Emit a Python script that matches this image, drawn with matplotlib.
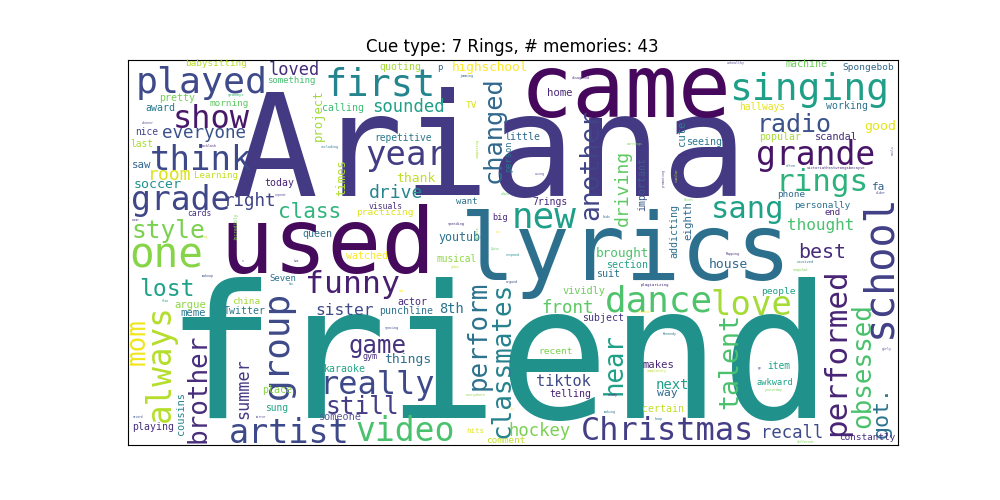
import matplotlib
matplotlib.use("Agg")
import matplotlib.pyplot as plt

# words in the cloud (cue "7 Rings", 43 memories)
words = [
    "Ariana", "used", "lyrics", "friend", "came", "school", "played", "loved",
    "babysitting", "something", "pretty", "grammys", "morning", "award", "project",
    "show", "everyone", "nice", "last", "dinner", "backlash", "think", "saw", "room",
    "Learning", "soccer", "today", "grade", "right", "class", "repeat", "cards",
    "incredibly", "wear", "raving", "style", "queen", "one", "lost", "makeup", "Seven",
    "fun", "flow", "china", "argue", "meme", "Twitter", "always", "mom", "brother",
    "cousins", "group", "summer", "place", "sung", "record", "mirror", "playing",
    "artist", "first", "quoting", "highschool", "p", "jamming", "sounded", "changed",
    "calling", "TV", "year", "repetitive", "little", "including", "comparing",
    "person", "times", "thank", "drive", "visuals", "practicing", "want", "big",
    "vibes", "spending", "youtube", "musical", "watched", "Quite", "middle", "ain",
    "respond", "jokes", "argued", "two", "s", "syncing", "sad", "funny", "sister",
    "actor", "punchline", "8th", "perform", "classmates", "game", "things", "gym",
    "karaoke", "really", "still", "someone", "video", "everywhere", "hits", "comment",
    "lip", "hockey", "brought", "section", "suit", "house", "vividly", "front",
    "dance", "love", "people", "plagiarizing", "subject", "showed", "Kennedy",
    "recent", "hear", "makes", "completely", "next", "tiktok", "telling", "way",
    "ready", "certain", "making", "hoop", "Christmas", "best", "Rapping", "received",
    "snapchat", "talent", "performed", "obsessed", "got.", "girly", "item", "go",
    "awkward", "yesterday", "recall", "different", "constantly", "unhealthy",
    "machine", "Spongebob", "singing", "hallways", "working", "radio", "good",
    "popular", "scandal", "seeing", "grande", "nails", "often",
    "victoriathestwrongsbecayse", "rings", "fa", "older", "sang", "phone",
    "personally", "end", "thought", "disagreed", "home", "another", "cute",
    "driving", "earrings", "important", "similar", "promoting", "watch", "using",
    "7rings", "Gives", "kids", "addicting", "eighth", "new",
]

# placement of each word (pixel frame of the picture)
# horizontal: (centre x, baseline y, em px, 0, colour)
# vertical:   (baseline x, centre y, em px, 90, colour)
layout = {
    "Ariana": (490, 196, 143, 0, "#443a83"),
    "used": (327.5, 273, 90, 0, "#450a5c"),
    "lyrics": (626, 280, 92, 0, "#2d708e"),
    "friend": (498, 418, 185, 0, "#21918c"),
    "came": (626, 117, 88, 0, "#46085c"),
    "school": (890, 266, 40, 90, "#424086"),
    "played": (201.5, 93, 36.5, 0, "#3e4a89"),
    "loved": (294, 75, 17, 0, "#472c7a"),
    "babysitting": (216, 66, 9.4, 0, "#b8de29"),
    "something": (291, 83, 9, 0, "#45bf70"),
    "pretty": (177, 101, 10, 0, "#75d054"),
    "grammys": (236, 96, 4, 0, "#3fbc73"),
    "morning": (229, 106, 9.4, 0, "#5ec962"),
    "award": (160, 111, 10, 0, "#2a788e"),
    "project": (322, 115, 12.3, 90, "#a0da39"),
    "show": (211.5, 128, 32, 0, "#48186a"),
    "everyone": (204, 138, 17.5, 0, "#3b528b"),
    "nice": (147, 135, 9.7, 0, "#404688"),
    "last": (142, 147, 9.7, 0, "#a8db34"),
    "dinner": (148, 124, 3.2, 0, "#5b4c96"),
    "backlash": (209, 147, 3.3, 0, "#472d7b"),
    "think": (201.5, 170, 34, 0, "#3e4989"),
    "saw": (142, 168, 10.8, 0, "#33638d"),
    "room": (170, 180, 18, 0, "#dde318"),
    "Learning": (216, 178, 9.2, 0, "#c2df23"),
    "soccer": (158, 188, 13.3, 0, "#21918c"),
    "today": (279, 186, 9.9, 0, "#482173"),
    "grade": (180.5, 210, 33, 0, "#3f4788"),
    "right": (250, 206, 17.5, 0, "#414487"),
    "class": (310, 218, 21, 0, "#2fb47c"),
    "repeat": (280, 196, 3.2, 0, "#5b4c96"),
    "cards": (199.5, 216, 8, 0, "#46337e"),
    "incredibly": (238, 226, 4.5, 90, "#7ad151"),
    "wear": (136, 221, 3, 0, "#472d7b"),
    "raving": (201, 238, 3.2, 0, "#c8e020"),
    "style": (168, 238, 24.5, 0, "#7ad151"),
    "queen": (317.5, 237, 10, 0, "#2d708e"),
    "one": (166, 268, 41, 0, "#86d549"),
    "lost": (167, 296, 23, 0, "#1fa187"),
    "makeup": (208, 277, 3.2, 0, "#3e4989"),
    "Seven": (283, 281, 9, 0, "#2c728e"),
    "fun": (291, 285, 2.8, 0, "#2c728e"),
    "flow": (165, 302, 3, 0, "#1fa187"),
    "china": (246.5, 304, 9.4, 0, "#a2da37"),
    "argue": (190, 308, 10.5, 0, "#8ed645"),
    "meme": (193, 316, 10.6, 0, "#2a788e"),
    "Twitter": (245, 314, 9.9, 0, "#2a768e"),
    "always": (170, 363, 32.6, 90, "#b5de2b"),
    "mom": (145, 342, 26, 90, "#f1e51d"),
    "brother": (205, 388, 26, 90, "#472d7b"),
    "cousins": (184, 414, 10.3, 90, "#26828e"),
    "group": (288, 345, 36, 90, "#3e4a89"),
    "summer": (248, 389, 16.8, 90, "#443983"),
    "place": (277, 393, 10, 0, "#86d549"),
    "sung": (277, 411, 9.7, 0, "#20a386"),
    "record": (138, 418, 3, 0, "#3b528b"),
    "mirror": (261, 418, 3, 0, "#5b4c96"),
    "playing": (153, 430, 9.9, 0, "#46307e"),
    "artist": (289, 443, 33.5, 0, "#3e4989"),
    "first": (380, 95, 37, 0, "#25858e"),
    "quoting": (400, 70, 9.9, 0, "#a5db36"),
    "highschool": (489.5, 71, 12.8, 0, "#fde725"),
    "p": (440, 70, 9, 0, "#33638d"),
    "jamming": (467, 77, 3.2, 0, "#31688e"),
    "sounded": (408, 112, 17.2, 0, "#1f9f88"),
    "changed": (501, 130, 25.4, 90, "#31688e"),
    "calling": (343, 111, 9.9, 0, "#3fbc73"),
    "TV": (472, 108, 9.5, 0, "#d8e219"),
    "year": (406.5, 165, 34, 0, "#433d84"),
    "repetitive": (403.5, 141, 9.7, 0, "#2a788e"),
    "little": (522, 140, 10, 0, "#306a8e"),
    "including": (330, 148, 3.2, 0, "#2a788e"),
    "comparing": (479, 148, 3.5, 90, "#a0da39"),
    "person": (511, 156, 8.7, 90, "#2c728e"),
    "times": (345, 178, 12.2, 90, "#b2dd2d"),
    "thank": (416, 182, 13, 0, "#c0df25"),
    "drive": (396, 198, 18, 0, "#25858e"),
    "visuals": (386, 209, 8, 0, "#472e7c"),
    "practicing": (385, 215, 9.5, 0, "#e2e418"),
    "want": (467, 204, 9, 0, "#2c728e"),
    "big": (500, 220, 8.7, 0, "#482878"),
    "vibes": (505, 195, 3, 0, "#5ec962"),
    "spending": (456, 225, 3.5, 0, "#472d7b"),
    "youtube": (463, 241, 11.6, 0, "#2c728e"),
    "musical": (457, 262, 9.6, 0, "#8fd744"),
    "watched": (367, 259, 9.9, 0, "#fde725"),
    "Quite": (495, 250, 3, 0, "#5ec962"),
    "middle": (479, 233, 3.5, 90, "#7ad151"),
    "ain": (498, 233, 3, 0, "#fde725"),
    "respond": (512, 256, 3.2, 0, "#21918c"),
    "jokes": (455, 268, 3, 0, "#addc30"),
    "argued": (512, 283, 3.2, 0, "#3e4989"),
    "two": (296, 262, 3, 0, "#482878"),
    "s": (243, 262, 3, 0, "#3e4989"),
    "syncing": (392, 329, 3.2, 0, "#3e4989"),
    "sad": (401, 292, 3, 0, "#fde725"),
    "funny": (352, 293, 31.5, 0, "#481f70"),
    "sister": (345, 315, 16.2, 0, "#3e4a89"),
    "actor": (412.5, 305, 10, 0, "#472a7a"),
    "punchline": (406, 314, 9.9, 0, "#2c738e"),
    "8th": (451.5, 313, 13.8, 0, "#2c728e"),
    "perform": (486, 335, 26, 90, "#2c728e"),
    "classmates": (510, 360, 26, 90, "#26828e"),
    "game": (377.5, 353, 24, 0, "#46337e"),
    "things": (407.5, 363, 13, 0, "#2c728e"),
    "gym": (370, 359, 8.4, 0, "#472c7a"),
    "karaoke": (345, 372, 9.9, 0, "#20a486"),
    "really": (377, 394, 32, 0, "#3e4989"),
    "still": (362, 414, 24.5, 0, "#433e85"),
    "someone": (340, 420, 10.3, 0, "#5b5a9e"),
    "video": (405, 441, 33, 0, "#4ac16d"),
    "everywhere": (476, 396, 3.2, 0, "#8fd744"),
    "hits": (475, 433, 7.5, 0, "#e5e419"),
    "comment": (506, 443, 9.4, 0, "#c2df23"),
    "lip": (512, 410, 3, 0, "#fde725"),
    "hockey": (540, 436, 17.3, 0, "#7ad151"),
    "brought": (622, 257, 12.8, 0, "#4ec36b"),
    "section": (627, 268, 9.9, 0, "#1fa088"),
    "suit": (608, 277, 10, 0, "#2c728e"),
    "house": (728, 268, 13, 0, "#31688e"),
    "vividly": (584, 294, 10.3, 0, "#6ccd5a"),
    "front": (568, 313, 17.5, 0, "#5ec962"),
    "dance": (658.5, 311, 36, 0, "#4ec36b"),
    "love": (751.5, 315, 34, 0, "#a5db36"),
    "people": (778.5, 294, 9.5, 0, "#20a386"),
    "plagiarizing": (655, 286, 4, 0, "#472d7b"),
    "subject": (603, 321, 9.9, 0, "#46337e"),
    "showed": (644, 313, 3.3, 0, "#fde725"),
    "Kennedy": (670, 335, 3.3, 0, "#2c728e"),
    "recent": (556, 354, 9.5, 0, "#7ad151"),
    "hear": (621, 364, 25.7, 90, "#1fa187"),
    "makes": (658, 368, 10.5, 0, "#482677"),
    "completely": (657, 372, 3.3, 0, "#b5de2b"),
    "next": (672.5, 389, 14, 0, "#1f9e89"),
    "tiktok": (563.5, 386, 15.3, 0, "#3e4a89"),
    "telling": (570, 397, 9.9, 0, "#482475"),
    "way": (667, 396, 11.5, 0, "#31688e"),
    "ready": (612, 396, 3.2, 0, "#472d7b"),
    "certain": (663, 412, 9.9, 0, "#c2df23"),
    "making": (610, 413, 3.2, 0, "#2c728e"),
    "hoop": (659, 420, 3.2, 0, "#2c728e"),
    "Christmas": (667.5, 440, 32, 0, "#433e85"),
    "best": (822, 258, 20, 0, "#472c7a"),
    "Rapping": (733, 255, 3.2, 0, "#472d7b"),
    "received": (805, 263, 3.5, 0, "#2c728e"),
    "snapchat": (801, 271, 3.3, 0, "#7ad151"),
    "talent": (737, 361, 26.6, 90, "#4ac16d"),
    "performed": (845, 352, 31, 90, "#482475"),
    "obsessed": (870, 366, 26, 90, "#4ac16d"),
    "got.": (888, 412, 21.7, 90, "#2c728e"),
    "girly": (887, 350, 3.2, 0, "#5b4c96"),
    "item": (779, 369, 9.7, 0, "#20a386"),
    "go": (759.5, 369, 3, 0, "#46337e"),
    "awkward": (774.5, 385, 8.6, 0, "#1fa187"),
    "yesterday": (773.5, 391, 3.3, 0, "#7ad151"),
    "recall": (792, 438, 17.3, 0, "#3e4a89"),
    "different": (806, 443, 3.3, 0, "#7ad151"),
    "constantly": (867.5, 440, 9.4, 0, "#46307e"),
    "unhealthy": (735.5, 64, 3.3, 0, "#5b4c96"),
    "machine": (807, 67, 9.9, 0, "#6ece58"),
    "Spongebob": (868, 70, 9.5, 0, "#31688e"),
    "singing": (809.5, 100, 38, 0, "#1f9f88"),
    "hallways": (762.5, 110, 9.6, 0, "#e5e419"),
    "working": (847, 109, 9.9, 0, "#2c728e"),
    "radio": (794, 132, 25, 0, "#3b528b"),
    "good": (880, 130, 13.3, 0, "#e5e419"),
    "popular": (780, 140, 9.9, 0, "#a8db34"),
    "scandal": (836, 140, 10.3, 0, "#472d7b"),
    "seeing": (704.5, 145, 10, 0, "#2a788e"),
    "grande": (815.5, 165, 33, 0, "#481467"),
    "nails": (894, 150, 3.3, 90, "#5b4c96"),
    "often": (791, 167, 3.2, 0, "#2c728e"),
    "victoriathestwrongsbecayse": (836, 169, 3.8, 0, "#472d7b"),
    "rings": (822.5, 191, 31, 0, "#2db27d"),
    "fa": (879, 190, 11, 0, "#33638d"),
    "older": (881, 194, 3.2, 0, "#3e4989"),
    "sang": (747.5, 218, 30.5, 0, "#1fa188"),
    "phone": (791.5, 197, 9.4, 0, "#31688e"),
    "personally": (822.5, 208, 9.4, 0, "#2c728e"),
    "end": (832.5, 215, 9, 0, "#472a7a"),
    "thought": (820.5, 230, 16, 0, "#4ac16d"),
    "disagreed": (580.5, 79, 3.3, 0, "#472d7b"),
    "home": (560, 96, 10.6, 0, "#482878"),
    "another": (598, 164, 26.4, 90, "#414487"),
    "cute": (685, 133, 10.6, 90, "#2a788e"),
    "driving": (628, 188, 18.2, 90, "#5ec962"),
    "earrings": (635, 145, 3.3, 0, "#7ad151"),
    "important": (645, 184, 10, 90, "#3e5a8c"),
    "similar": (678, 175, 3.3, 90, "#b5de2b"),
    "promoting": (665, 178, 3.3, 90, "#5b4c96"),
    "watch": (682.5, 156, 3.3, 0, "#472d7b"),
    "using": (540, 175, 3.3, 0, "#5b4c96"),
    "7rings": (550, 205, 9.8, 0, "#482878"),
    "Gives": (688.5, 201, 3.3, 0, "#7ad151"),
    "kids": (607, 218, 3.3, 0, "#31688e"),
    "addicting": (677, 231, 10, 90, "#2c728e"),
    "eighth": (691, 221, 10.7, 90, "#31688e"),
    "new": (544.5, 228, 36, 0, "#1f9e89"),
}

fig, ax = plt.subplots(figsize=(10, 5), dpi=100)
ax.set_xlim(127.5, 897.5)
ax.set_ylim(445, 60)
ax.set_aspect("equal")
ax.set_xticks([])
ax.set_yticks([])

for w in words:
    x, y, em, rot, col = layout[w]
    ax.text(x, y, w, fontsize=em * 0.72, family="DejaVu Sans Mono",
            color=col, rotation=rot, rotation_mode="anchor",
            ha="center", va="baseline")

ax.set_title("Cue type: 7 Rings, # memories: 43")
plt.savefig("out.png", dpi=100)
